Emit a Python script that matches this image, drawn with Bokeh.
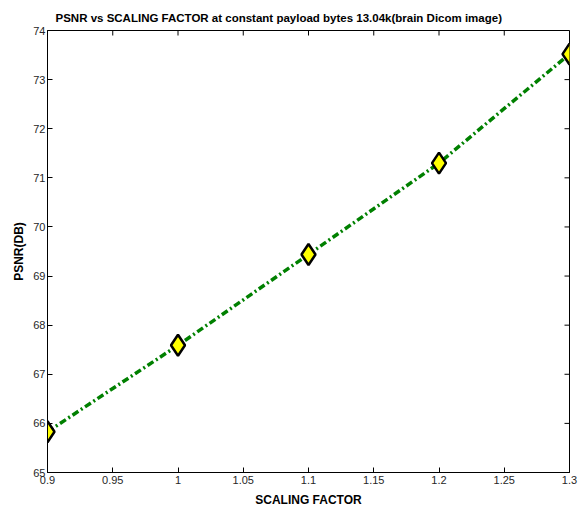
from bokeh.plotting import figure
from bokeh.models import Range1d, FixedTicker
from bokeh.embed import file_html
from bokeh.resources import INLINE

scaling_factor = [0.9, 1.0, 1.1, 1.2, 1.3]
psnr_db = [65.83, 67.59, 69.44, 71.30, 73.52]

x_ticks = [0.9, 0.95, 1.0, 1.05, 1.1, 1.15, 1.2, 1.25, 1.3]
x_tick_labels = ["0.9", "0.95", "1", "1.05", "1.1", "1.15", "1.2", "1.25", "1.3"]
y_ticks = [65, 66, 67, 68, 69, 70, 71, 72, 73, 74]

title_text = "PSNR vs SCALING FACTOR at constant payload bytes 13.04k(brain Dicom image)"
x_label = "SCALING FACTOR"
y_label = "PSNR(DB)"

FONT = "Liberation Sans"
X0, X1 = 0.9, 1.3
Y0, Y1 = 65, 74

p = figure(width=582, height=511, output_backend="svg", toolbar_location=None,
           x_range=Range1d(X0, X1), y_range=Range1d(Y0, Y1),
           min_border_left=47, min_border_right=13, min_border_top=30, min_border_bottom=39)

p.title.text = title_text
p.title.align = "left"
p.title.offset = 8
p.title.text_font = FONT
p.title.text_font_size = "11.5px"
p.title.text_font_style = "bold"
p.title.text_color = "black"
p.title.standoff = 13

p.grid.visible = False
p.outline_line_color = "black"
p.outline_line_width = 1
p.background_fill_color = "white"
p.border_fill_color = "white"

for ax in (p.xaxis[0], p.yaxis[0]):
    ax.axis_line_color = "black"
    ax.axis_line_width = 1
    ax.major_tick_in = 5
    ax.major_tick_out = 0
    ax.minor_tick_line_color = None
    ax.major_tick_line_color = "black"
    ax.major_label_text_font = FONT
    ax.major_label_text_font_size = "11px"
    ax.major_label_text_color = "#262626"
    ax.axis_label_text_font = FONT
    ax.axis_label_text_font_size = "12px"
    ax.axis_label_text_font_style = "bold"
    ax.axis_label_text_color = "black"

xa = p.xaxis[0]
xa.ticker = FixedTicker(ticks=x_ticks)
xa.major_label_overrides = {t: l for t, l in zip(x_ticks, x_tick_labels)}
xa.major_label_standoff = 3
xa.axis_label = x_label
xa.axis_label_standoff = 6

ya = p.yaxis[0]
ya.ticker = FixedTicker(ticks=y_ticks)
ya.major_label_standoff = 2
ya.axis_label = y_label
ya.axis_label_standoff = 4

# inward ticks on the top and right edges of the box (5 px long)
frame_w = 582 - 47 - 13
frame_h = 511 - 30 - 39
dy = 5 * (Y1 - Y0) / frame_h
dx = 5 * (X1 - X0) / frame_w
p.segment(x0=x_ticks, y0=[Y1] * len(x_ticks), x1=x_ticks, y1=[Y1 - dy] * len(x_ticks),
          line_color="black", line_width=1)
p.segment(x0=[X1] * len(y_ticks), y0=y_ticks, x1=[X1 - dx] * len(y_ticks), y1=y_ticks,
          line_color="black", line_width=1)

p.line(scaling_factor, psnr_db, line_color="#008000", line_width=3.5, line_dash="7 3 2 3")
p.scatter(scaling_factor, psnr_db, marker="diamond", size=21,
          fill_color="#ffff00", line_color="black", line_width=2.5)

open("out.html", "w").write(file_html(p, INLINE))
